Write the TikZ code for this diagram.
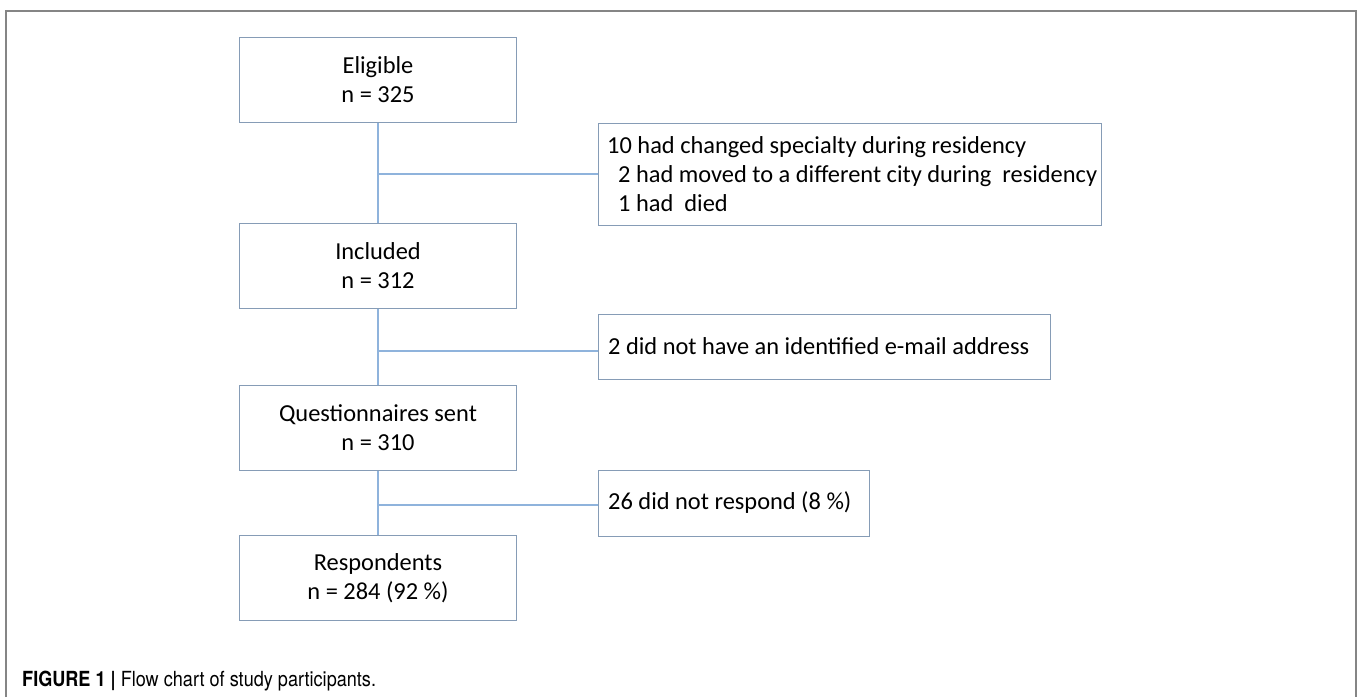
\documentclass[tikz,border=0pt]{standalone}
\usepackage{fontspec}
\setmainfont{Carlito}
\newfontfamily\capfont[FakeStretch=0.87]{TeX Gyre Heros}
\definecolor{boxline}{HTML}{869CB6}
\definecolor{conn}{HTML}{8FB3DC}
\definecolor{frame}{HTML}{858585}
\tikzset{
  boxfont/.style={font=\fontsize{24.4}{29}\selectfont},
  mainbox/.style={draw=boxline, line width=1.1pt, minimum width=277pt, minimum height=85pt,
    align=center, boxfont, inner sep=0pt},
  sidebox/.style={draw=boxline, line width=1.1pt, anchor=north west, inner sep=0pt},
  sidetext/.style={anchor=west, align=left, boxfont, inner sep=0pt},
  link/.style={draw=conn, line width=1.1pt},
}
\begin{document}
\begin{tikzpicture}[x=1pt,y=-1pt]
\useasboundingbox (0,0) rectangle (1357,697);
\draw[frame, line width=1.6pt] (6,697) -- (6,11) -- (1356,11) -- (1356,697);

\node[mainbox] (elig) at (378,80) {Eligible\\n = 325};
\node[mainbox] (incl) at (378,266) {Included\\n = 312};
\node[mainbox] (ques) at (378,428) {Questionnaires sent\\n = 310};
\node[mainbox] (resp) at (378,578) {Respondents\\n = 284 (92 \%)};

\node[sidebox, minimum width=503pt, minimum height=102pt] (s1) at (598,123) {};
\node[sidetext] (t1) at (607,174)
  {10 had changed specialty during residency\\
   \hspace*{0.45em}2 had moved to a different city during\ \ residency\\
   \hspace*{0.45em}1 had\ \ died};
\node[sidebox, minimum width=452pt, minimum height=65pt] (s2) at (598,314) {};
\node[sidetext] (t2) at (608,346.5)
  {2 did not have an identified e-mail address};
\node[sidebox, minimum width=271pt, minimum height=66pt] (s3) at (598,470) {};
\node[sidetext] (t3) at (608,503)
  {26 did not respond (8 \%)};

\coordinate (b1) at (elig.south |- 0,174);
\coordinate (b2) at (elig.south |- 0,351);
\coordinate (b3) at (elig.south |- 0,505);

\draw[link] (elig.south) -- (incl.north);
\draw[link] (incl.south) -- (ques.north);
\draw[link] (ques.south) -- (resp.north);
\draw[link] (b1) -- (b1 -| s1.west);
\draw[link] (b2) -- (b2 -| s2.west);
\draw[link] (b3) -- (b3 -| s3.west);

\node[anchor=base west, inner sep=0pt, font=\capfont\fontsize{20.8}{22}\selectfont] (cap) at (22,686)
  {\textbf{FIGURE 1 |} Flow chart of study participants.};
\end{tikzpicture}
\end{document}
